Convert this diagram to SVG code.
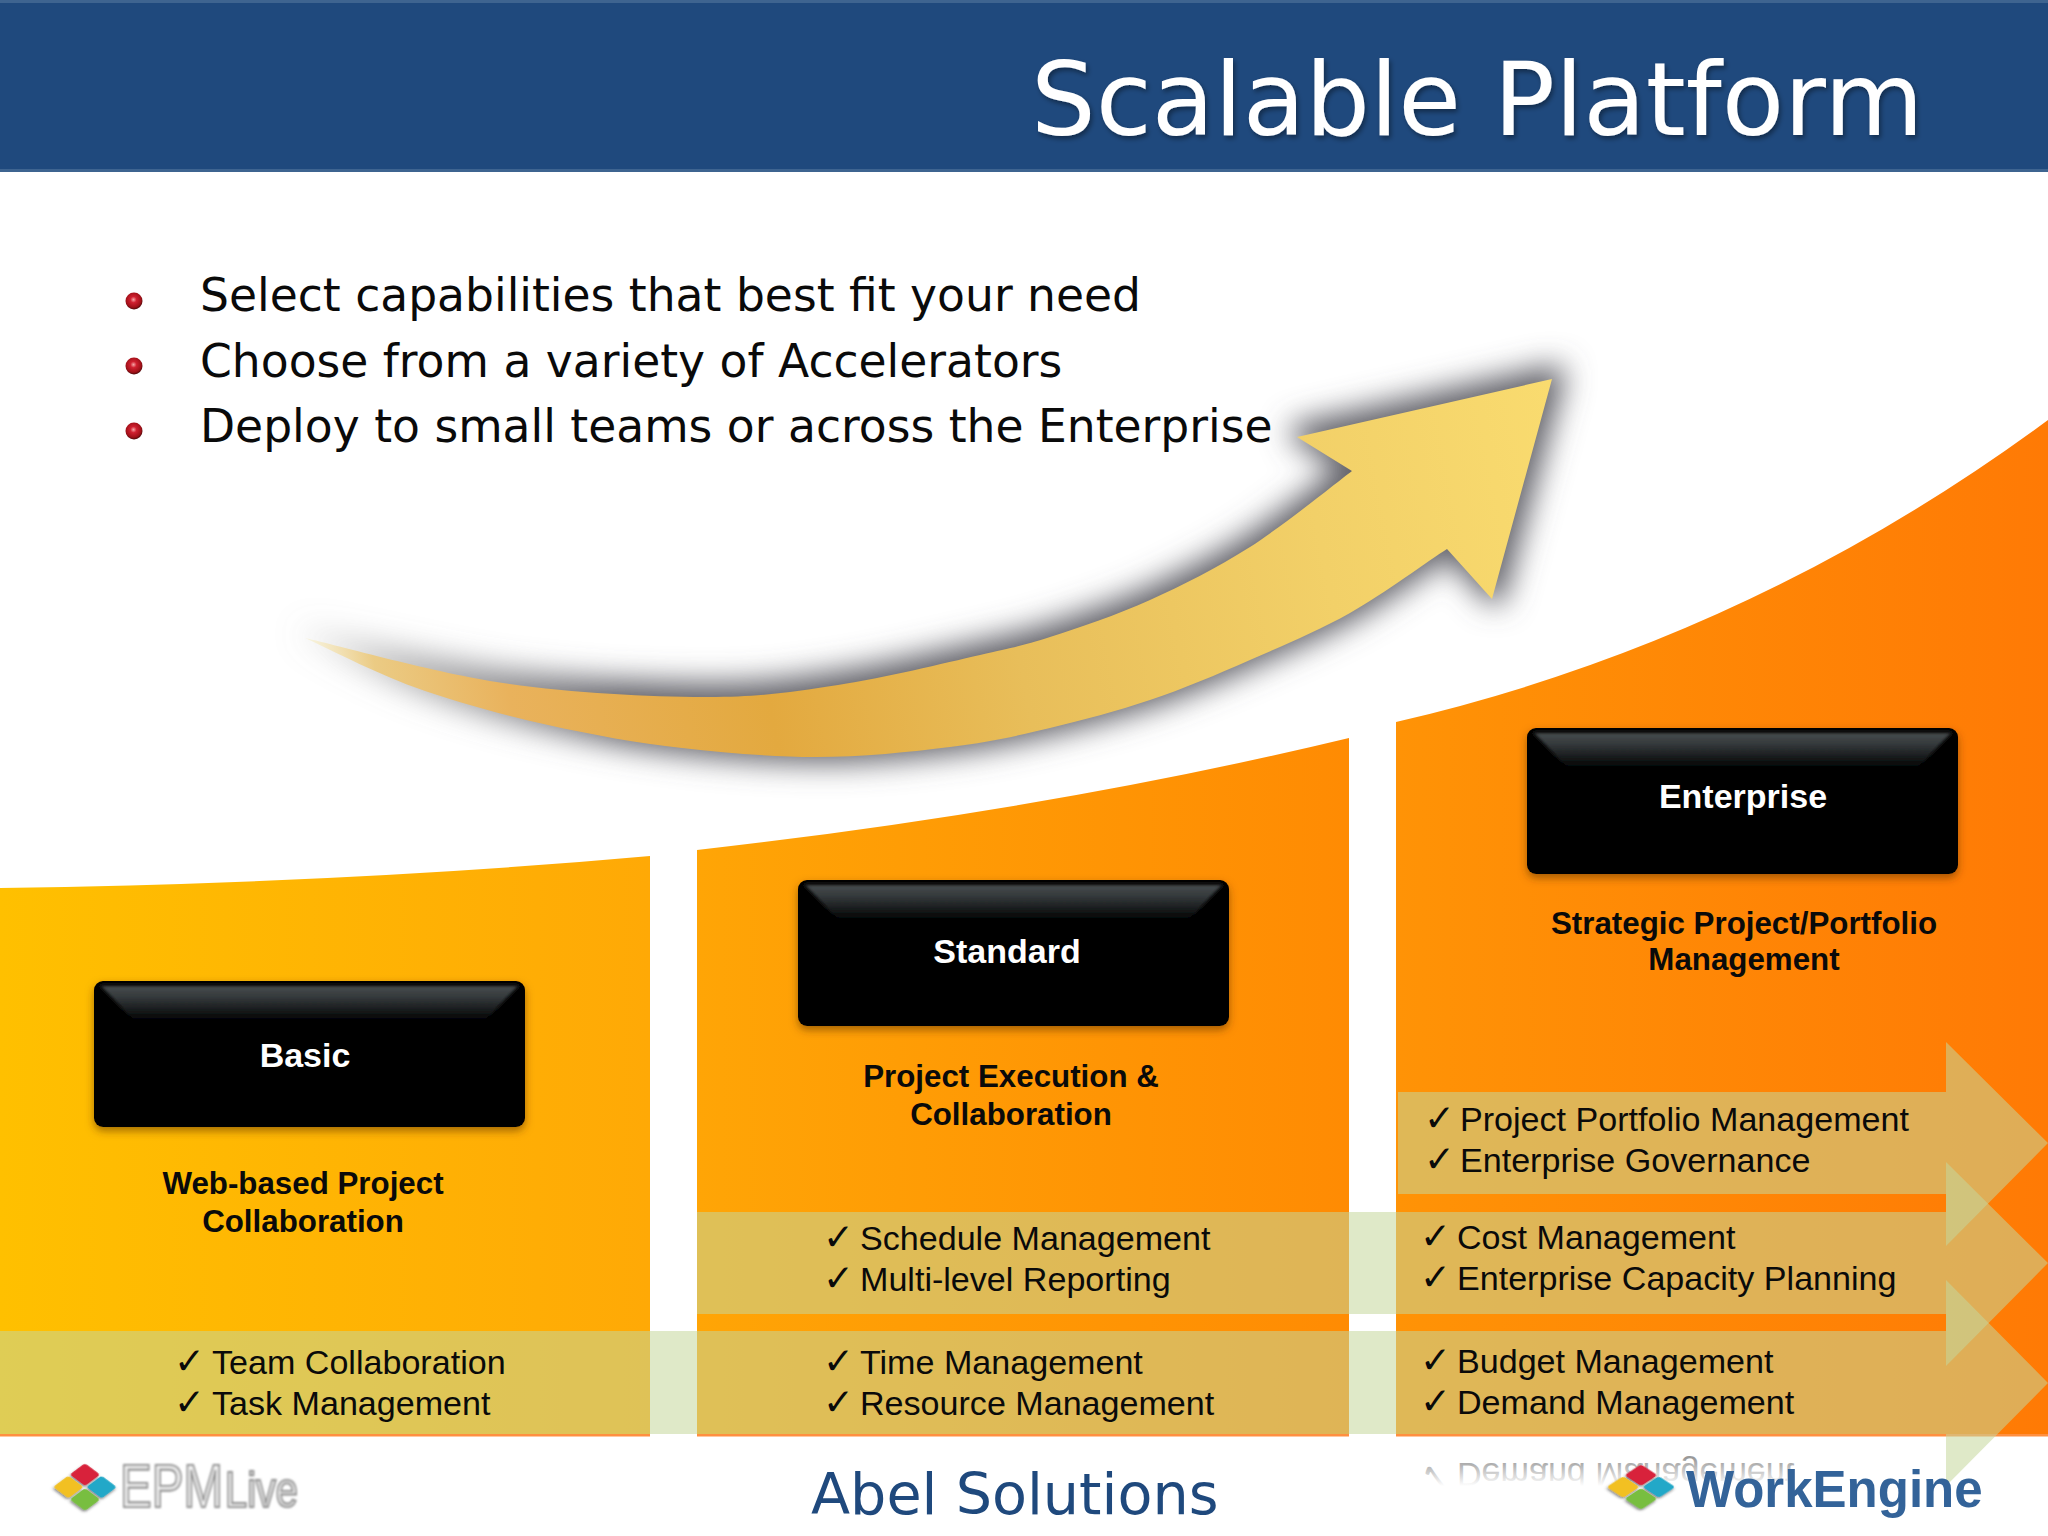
<svg xmlns="http://www.w3.org/2000/svg" width="2048" height="1536" viewBox="0 0 2048 1536">
<style>
.sans{font-family:"DejaVu Sans",sans-serif}
.bul{font-family:"DejaVu Sans",sans-serif;font-size:45.6px;fill:#0a0a0a}
.lab{font-family:"Liberation Sans",Arial,sans-serif;font-weight:bold;font-size:34px;fill:#fff;text-anchor:middle}
.desc{font-family:"Liberation Sans",Arial,sans-serif;font-weight:bold;font-size:31.3px;fill:#0a0a0a;text-anchor:middle}
.li{font-family:"Liberation Sans",Arial,sans-serif;font-size:34.1px;fill:#0a0a0a}
.ck{font-family:"DejaVu Sans",sans-serif;font-size:37px;fill:#0a0a0a}
.band{fill:#C4D79B;fill-opacity:.55}
</style>
<defs>
<linearGradient id="p1" x1="0" x2="1" y1="0" y2="0"><stop offset="0" stop-color="#FFC000"/><stop offset="1" stop-color="#FFA906"/></linearGradient>
<linearGradient id="p2" x1="0" x2="1" y1="0" y2="0"><stop offset="0" stop-color="#FFA506"/><stop offset="1" stop-color="#FF8B03"/></linearGradient>
<linearGradient id="p3" x1="0" x2="1" y1="0" y2="0"><stop offset="0" stop-color="#FF9306"/><stop offset="1" stop-color="#FF7A05"/></linearGradient>
<linearGradient id="arw" gradientUnits="userSpaceOnUse" x1="305" y1="640" x2="1552" y2="400">
<stop offset="0" stop-color="#F8F6E4"/><stop offset=".05" stop-color="#EBCB84"/><stop offset=".15" stop-color="#E9B25C"/><stop offset=".35" stop-color="#E3A93F"/><stop offset=".55" stop-color="#E8BE5A"/><stop offset=".8" stop-color="#F2D068"/><stop offset="1" stop-color="#F9DB6F"/></linearGradient>
<linearGradient id="shd" gradientUnits="userSpaceOnUse" x1="305" y1="640" x2="620" y2="640"><stop offset="0" stop-color="#888" stop-opacity=".1"/><stop offset="1" stop-color="#606068"/></linearGradient>
<linearGradient id="bev" x1="0" x2="0" y1="0" y2="1"><stop offset="0" stop-color="#474c4e"/><stop offset=".35" stop-color="#33383a"/><stop offset="1" stop-color="#040506"/></linearGradient>
<linearGradient id="refl" gradientUnits="userSpaceOnUse" x1="0" x2="0" y1="1420" y2="1392"><stop offset="0" stop-color="#999"/><stop offset="1" stop-color="#fff"/></linearGradient>
<radialGradient id="ball" cx=".47" cy=".42" r=".6"><stop offset="0" stop-color="#F6A8A8"/><stop offset=".3" stop-color="#D02030"/><stop offset=".75" stop-color="#A01018"/><stop offset="1" stop-color="#3a0808"/></radialGradient>
<filter id="blur" x="-10%" y="-20%" width="120%" height="140%"><feGaussianBlur stdDeviation="15"/></filter>
<filter id="ds" x="-10%" y="-10%" width="120%" height="130%"><feDropShadow dx="0" dy="4" stdDeviation="4" flood-color="#5a3000" flood-opacity=".55"/></filter>
<filter id="ts" x="-5%" y="-10%" width="110%" height="125%"><feDropShadow dx="2" dy="3" stdDeviation="2.5" flood-color="#000" flood-opacity=".4"/></filter>
<filter id="soft" x="-5%" y="-10%" width="110%" height="130%"><feGaussianBlur stdDeviation=".9"/></filter>
<filter id="sb" x="-10%" y="-20%" width="120%" height="140%"><feGaussianBlur stdDeviation="1.6"/></filter>
<filter id="tsh" x="-20%" y="-20%" width="140%" height="140%"><feDropShadow dx="1" dy="2" stdDeviation="1.5" flood-color="#333" flood-opacity=".6"/></filter>
<path id="arrow-shape" d="M305 638C338 645.5 436.5 673.2 503 683C569.5 692.8 648 696.7 704 697C759.8 697.3 792 692 838 685C884 678 944.7 663 980 655C1015 647 1021.7 646 1050 637C1078 628 1117 615 1150 600C1183 585 1216 568.5 1250 547C1284 525 1335 484 1352 471L1297 437L1552 379L1492 599L1447 549C1431 559 1383 594.5 1350 613C1317 631.5 1283 645.5 1250 660C1217 674.5 1183 689 1150 700C1117 711 1083 720 1050 728C1017 736 989 742 950 747C911 752 861 757 816 757C771 757 727 753 682 748C637 743 593 735 548 725C503 715 454 701.5 414 687C374 672.5 323 646 305 638Z"/>
<g id="btn">
<rect width="431" height="146" rx="9" fill="#040404"/>
<path d="M7 5H424L392 38H39Z" fill="url(#bev)" filter="url(#sb)"/>
<path d="M7 141H424L395 118H36Z" fill="#000"/>
</g>
<g id="tiles">
<rect x="-21" y="-21" width="20" height="20" rx="3" fill="#D8203A"/>
<rect x="1" y="-21" width="20" height="20" rx="3" fill="#20A8C8"/>
<rect x="1" y="1" width="20" height="20" rx="3" fill="#78BE40"/>
<rect x="-21" y="1" width="20" height="20" rx="3" fill="#F2C020"/>
</g>
</defs>
<rect width="2048" height="1536" fill="#fff"/>
<g id="header">
<rect x="-2" y="1.5" width="2052" height="169" fill="#1F497D" stroke="#3E6490" stroke-width="3"/>
<text class="sans" x="1031" y="135" font-size="102" fill="#fff" filter="url(#ts)">Scalable Platform</text>
</g>
<g id="bullets">
<circle cx="134" cy="301" r="8.5" fill="url(#ball)"/><text class="bul" x="200" y="311">Select capabilities that best fit your need</text>
<circle cx="134" cy="366" r="8.5" fill="url(#ball)"/><text class="bul" x="200" y="377">Choose from a variety of Accelerators</text>
<circle cx="134" cy="431" r="8.5" fill="url(#ball)"/><text class="bul" x="200" y="442">Deploy to small teams or across the Enterprise</text>
</g>
<g id="big-arrow">
<use href="#arrow-shape" fill="url(#shd)" stroke="url(#shd)" stroke-width="20" stroke-linejoin="round" filter="url(#blur)" transform="translate(3,-4)"/>
<use href="#arrow-shape" fill="url(#arw)"/>
</g>
<g id="panel-basic"><path d="M0 888Q350 883 650 856V1436H0Z" fill="url(#p1)"/></g>
<g id="panel-standard"><path d="M697 850Q1050 810 1349 738V1436H697Z" fill="url(#p2)"/></g>
<g id="panel-enterprise"><path d="M1396 722Q1750 640 2048 420V1436H1396Z" fill="url(#p3)"/></g>
<rect x="0" y="1434" width="650" height="2.5" fill="#FF8F40"/><rect x="697" y="1434" width="652" height="2.5" fill="#FF8F40"/><rect x="1396" y="1434" width="652" height="2.5" fill="#FF8F40"/>
<g id="connectors">
<path class="band" d="M0 1331H1946V1280L2048 1383L1946 1486V1434H0Z"/>
<path class="band" d="M697 1212H1946V1162L2048 1263L1946 1366V1314H697Z"/>
<path class="band" d="M1398 1092H1946V1042L2048 1143L1946 1246V1194H1398Z"/>
</g>
<g id="node-basic">
<use href="#btn" x="94" y="981" filter="url(#ds)"/>
<text class="lab" x="305" y="1067">Basic</text>
<text class="desc" x="303" y="1194">Web-based Project</text>
<text class="desc" x="303" y="1232">Collaboration</text>
</g>
<g id="node-standard">
<use href="#btn" x="798" y="880" filter="url(#ds)"/>
<text class="lab" x="1007" y="963">Standard</text>
<text class="desc" x="1011" y="1087">Project Execution &amp;</text>
<text class="desc" x="1011" y="1125">Collaboration</text>
</g>
<g id="node-enterprise">
<use href="#btn" x="1527" y="728" filter="url(#ds)"/>
<text class="lab" x="1743" y="808">Enterprise</text>
<text class="desc" x="1744" y="934">Strategic Project/Portfolio</text>
<text class="desc" x="1744" y="970">Management</text>
</g>
<g id="lists">
<text class="ck" x="174" y="1374">✓</text><text class="li" x="212" y="1374">Team Collaboration</text>
<text class="ck" x="174" y="1415">✓</text><text class="li" x="212" y="1415">Task Management</text>
<text class="ck" x="823" y="1374">✓</text><text class="li" x="860" y="1374">Time Management</text>
<text class="ck" x="823" y="1415">✓</text><text class="li" x="860" y="1415">Resource Management</text>
<text class="ck" x="823" y="1250">✓</text><text class="li" x="860" y="1250">Schedule Management</text>
<text class="ck" x="823" y="1291">✓</text><text class="li" x="860" y="1291">Multi-level Reporting</text>
<text class="ck" x="1420" y="1373">✓</text><text class="li" x="1457" y="1373">Budget Management</text>
<text class="ck" x="1420" y="1414">✓</text><text class="li" x="1457" y="1414">Demand Management</text>
<text class="ck" x="1420" y="1249">✓</text><text class="li" x="1457" y="1249">Cost Management</text>
<text class="ck" x="1420" y="1290">✓</text><text class="li" x="1457" y="1290">Enterprise Capacity Planning</text>
<text class="ck" x="1424" y="1131">✓</text><text class="li" x="1460" y="1131">Project Portfolio Management</text>
<text class="ck" x="1424" y="1172">✓</text><text class="li" x="1460" y="1172">Enterprise Governance</text>
</g>
<g id="reflection" transform="translate(0,2878) scale(1,-1)">
<text class="li" x="1457" y="1415" style="fill:url(#refl)">Demand Management</text>
<text class="ck" x="1420" y="1415" style="fill:url(#refl)">✓</text>
</g>
<g id="logo-epmlive">
<use href="#tiles" transform="translate(85,1487) scale(1.07,.8) rotate(45)" filter="url(#tsh)"/>
<g font-family="Liberation Sans,Arial,sans-serif" fill="#f2f2f2" stroke="#909090" stroke-width="2.2" filter="url(#soft)">
<text x="120" y="1507" font-size="62" textLength="103" lengthAdjust="spacingAndGlyphs">EPM</text>
<text x="225" y="1507" font-size="50" textLength="73" lengthAdjust="spacingAndGlyphs">Live</text>
</g>
</g>
<g id="footer-center"><text class="sans" x="811" y="1514" font-size="57.2" fill="#1F497D">Abel Solutions</text></g>
<g id="logo-workengine">
<use href="#tiles" transform="translate(1641,1487) scale(1.15,.76) rotate(45)" filter="url(#tsh)"/>
<text x="1686" y="1507" font-family="Liberation Sans,Arial,sans-serif" font-weight="bold" font-size="51" fill="#336399">WorkEngine</text>
</g>
</svg>
